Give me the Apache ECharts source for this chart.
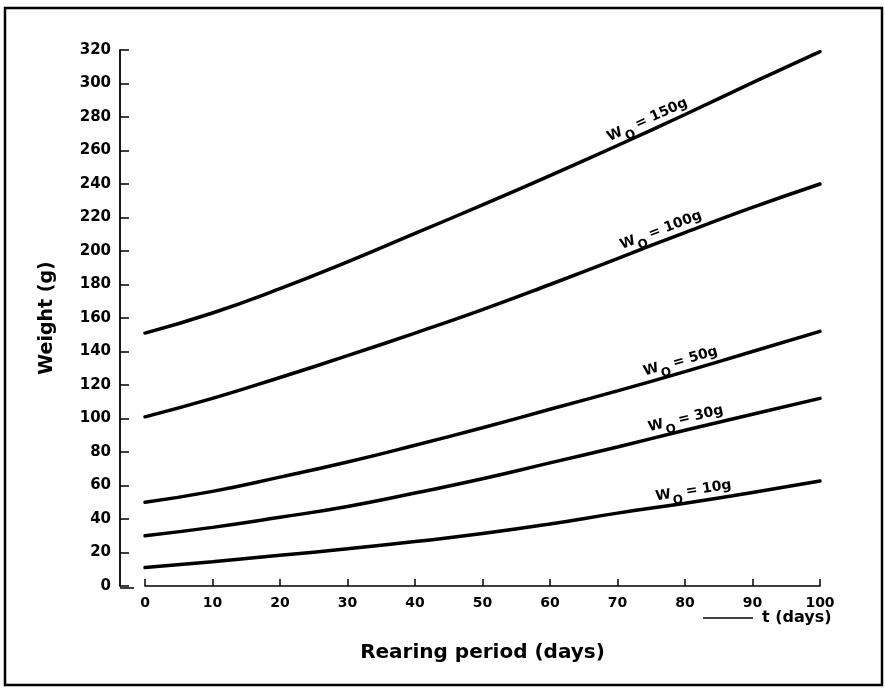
<!DOCTYPE html>
<html>
<head>
<meta charset="utf-8">
<script src="https://cdn.jsdelivr.net/npm/echarts@6/dist/echarts.min.js"></script>
<style>
html, body { margin: 0; padding: 0; background: #fff; }
#main { width: 885px; height: 688px; }
</style>
</head>
<body>
<div id="main"></div>
<script>
// rearing period, days
var days = [0, 10, 20, 30, 40, 50, 60, 70, 80, 90, 100];

// weight (g), one array per starting weight
var w150 = [151, 163, 177.5, 193.5, 210.5, 227.5, 245, 263, 281.5, 300.5, 319];
var w100 = [101, 112, 124.5, 137.5, 151, 165, 180, 195.5, 211, 226, 240];
var w50 = [50, 56.5, 65, 74, 84, 94.5, 105.5, 116.5, 128, 140, 152];
var w30 = [30, 35, 41, 47.5, 55.5, 64, 73.5, 83, 93, 102.5, 112];
var w10 = [11, 14.5, 18.3, 22.2, 26.5, 31.3, 37, 43.5, 49.4, 55.8, 62.7];

var startWeights = ['150g', '100g', '50g', '30g', '10g'];

var FONT = 'DejaVu Sans';

var labelRich = {
    w: { fontFamily: FONT, fontSize: 14, fontWeight: 'bold', color: '#000', lineHeight: 16, verticalAlign: 'top' },
    s: { fontFamily: FONT, fontSize: 12, fontWeight: 'bold', color: '#000', lineHeight: 12, verticalAlign: 'top', padding: [8, 4, 0, 1] }
};

// which point carries the curve label, its angle and slide along the curve
function makeSeries(name, values, labelIdx, rotate, slide) {
    var data = days.map(function (d, i) {
        if (i !== labelIdx) return [d, values[i]];
        return {
            value: [d, values[i]],
            label: {
                show: true,
                position: 'top',
                distance: 2,
                rotate: rotate,
                offset: [slide, 0],
                formatter: '{w|W}{s|O}{w|= ' + name + '}',
                rich: labelRich
            }
        };
    });
    return {
        type: 'line',
        name: name,
        data: data,
        smooth: true,
        symbol: 'circle',
        symbolSize: 0,
        showSymbol: true,
        lineStyle: { color: '#000', width: 3.5, cap: 'round' },
        itemStyle: { color: '#000' },
        emphasis: { disabled: true },
        z: 3
    };
}

var myChart = echarts.init(document.getElementById('main'));
var option = {
    backgroundColor: '#fff',
    animation: false,
    grid: { left: 145, right: 65, top: 50, bottom: 102 },
    xAxis: {
        type: 'value',
        min: 0,
        max: 100,
        interval: 10,
        name: 'Rearing period (days)',
        nameLocation: 'middle',
        nameGap: 57,
        nameTextStyle: { fontFamily: FONT, fontSize: 20, fontWeight: 'bold', color: '#000' },
        axisLine: { onZero: false, lineStyle: { color: '#000', width: 1.5 } },
        axisTick: { inside: true, length: 7, lineStyle: { color: '#000', width: 1.5 } },
        axisLabel: { fontFamily: FONT, fontSize: 14, fontWeight: 'bold', color: '#000', margin: 10 },
        splitLine: { show: false }
    },
    yAxis: {
        type: 'value',
        min: 0,
        max: 320,
        interval: 20,
        offset: 25,
        name: 'Weight (g)',
        nameLocation: 'middle',
        nameGap: 63,
        nameTextStyle: { fontFamily: FONT, fontSize: 19, fontWeight: 'bold', color: '#000' },
        axisLine: { show: true, onZero: false, lineStyle: { color: '#000', width: 1.8 } },
        axisTick: { show: true, inside: true, length: 9, lineStyle: { color: '#000', width: 1.5 } },
        axisLabel: { fontFamily: FONT, fontSize: 15, fontWeight: 'bold', color: '#000', margin: 9 },
        splitLine: { show: false }
    },
    graphic: [
        {
            type: 'rect',
            silent: true,
            shape: { x: 5, y: 8, width: 877, height: 677 },
            style: { fill: null, stroke: '#000', lineWidth: 2.5 }
        },
        {
            type: 'line',
            silent: true,
            shape: { x1: 120, y1: 588, x2: 134, y2: 588 },
            style: { stroke: '#000', lineWidth: 1.5 }
        },
        {
            type: 'line',
            silent: true,
            shape: { x1: 703, y1: 618, x2: 753, y2: 618 },
            style: { stroke: '#000', lineWidth: 1.5 }
        },
        {
            type: 'text',
            silent: true,
            x: 762,
            y: 618,
            style: {
                text: 't (days)',
                font: 'bold 16px "DejaVu Sans"',
                fill: '#000',
                textVerticalAlign: 'middle'
            }
        }
    ],
    series: [
        makeSeries(startWeights[0], w150, 7, 24.5, 37),
        makeSeries(startWeights[1], w100, 7, 21, 50),
        makeSeries(startWeights[2], w50, 8, 16, -2),
        makeSeries(startWeights[3], w30, 8, 13.5, 3),
        makeSeries(startWeights[4], w10, 8, 9, 10)
    ]
};
myChart.setOption(option);
</script>
</body>
</html>
